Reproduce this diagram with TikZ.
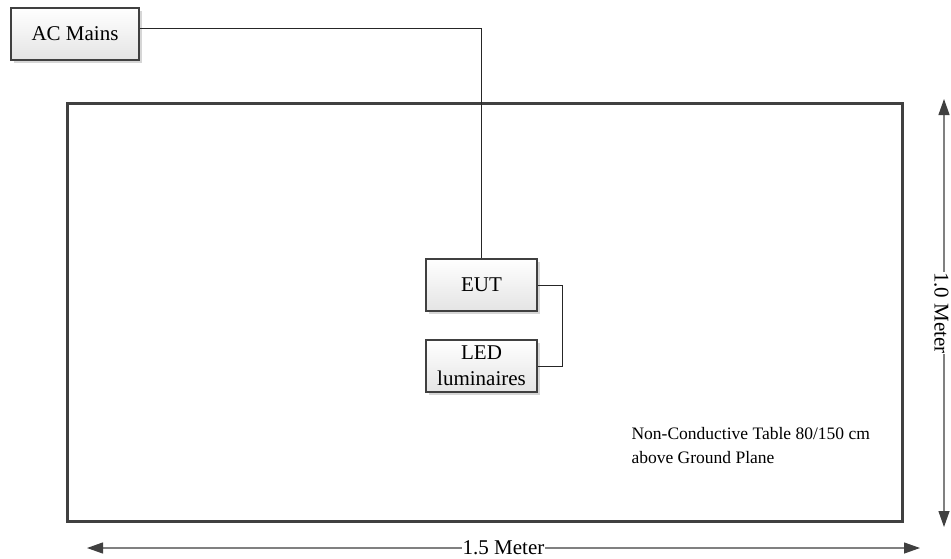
\documentclass[tikz,border=0pt]{standalone}
\usepackage{fontspec}
\setmainfont{Liberation Serif}
\usepackage{tikz}
\usetikzlibrary{arrows.meta,shadows,calc}
\definecolor{edgegray}{HTML}{404040}
\definecolor{fillgray}{HTML}{E4E4E4}
\definecolor{shadegray}{HTML}{D6D6D6}
\definecolor{dimgray}{HTML}{808080}
\tikzset{
	unit/.style={draw=edgegray,line width=2pt,top color=white,bottom color=fillgray,minimum height=52pt,inner sep=2pt,align=center,font=\fontsize{21}{26}\selectfont,drop shadow={shadow xshift=3pt,shadow yshift=-3pt,fill=shadegray,opacity=1}},
	wire/.style={draw=black!85,line width=1pt},
	dimline/.style={draw=dimgray,line width=1.2pt,{Triangle[length=16pt,width=11pt,color=edgegray]}-{Triangle[length=16pt,width=11pt,color=edgegray]}},
	dimlabel/.style={fill=white,inner sep=0.5pt,font=\fontsize{21}{26}\selectfont}
}

\begin{document}
\begin{tikzpicture}[x=1pt,y=-1pt]
	\useasboundingbox (0,0) rectangle (951,558);
	\draw[edgegray,line width=3pt] (67,103) rectangle (902,521);
	\node[unit,minimum width=128pt] (mains) at (75,34) {AC Mains};
	\node[unit,minimum width=111pt] (eut) at (481.5,285) {EUT};
	\node[unit,minimum width=111pt] (led) at (481.5,366) {LED\\luminaires};
	\draw[wire] ([yshift=6pt]mains.east) -| (eut.north);
	\draw[wire] (eut.east) -- ++(24,0) |- (led.east);
	\node[anchor=base west,align=left,font=\fontsize{17.5}{23.5}\selectfont] (note) at (628,463) {Non-Conductive Table 80/150 cm\\above Ground Plane};
	\coordinate (wl) at (87,548);
	\coordinate (wr) at (920,548);
	\coordinate (ht) at (944,99);
	\coordinate (hb) at (944,527);
	\draw[dimline] (wl) -- node[dimlabel] {1.5 Meter} (wr);
	\draw[dimline] (ht) -- node[dimlabel,rotate=-90,yshift=-2.5pt] {1.0 Meter} (hb);
\end{tikzpicture}
\end{document}
